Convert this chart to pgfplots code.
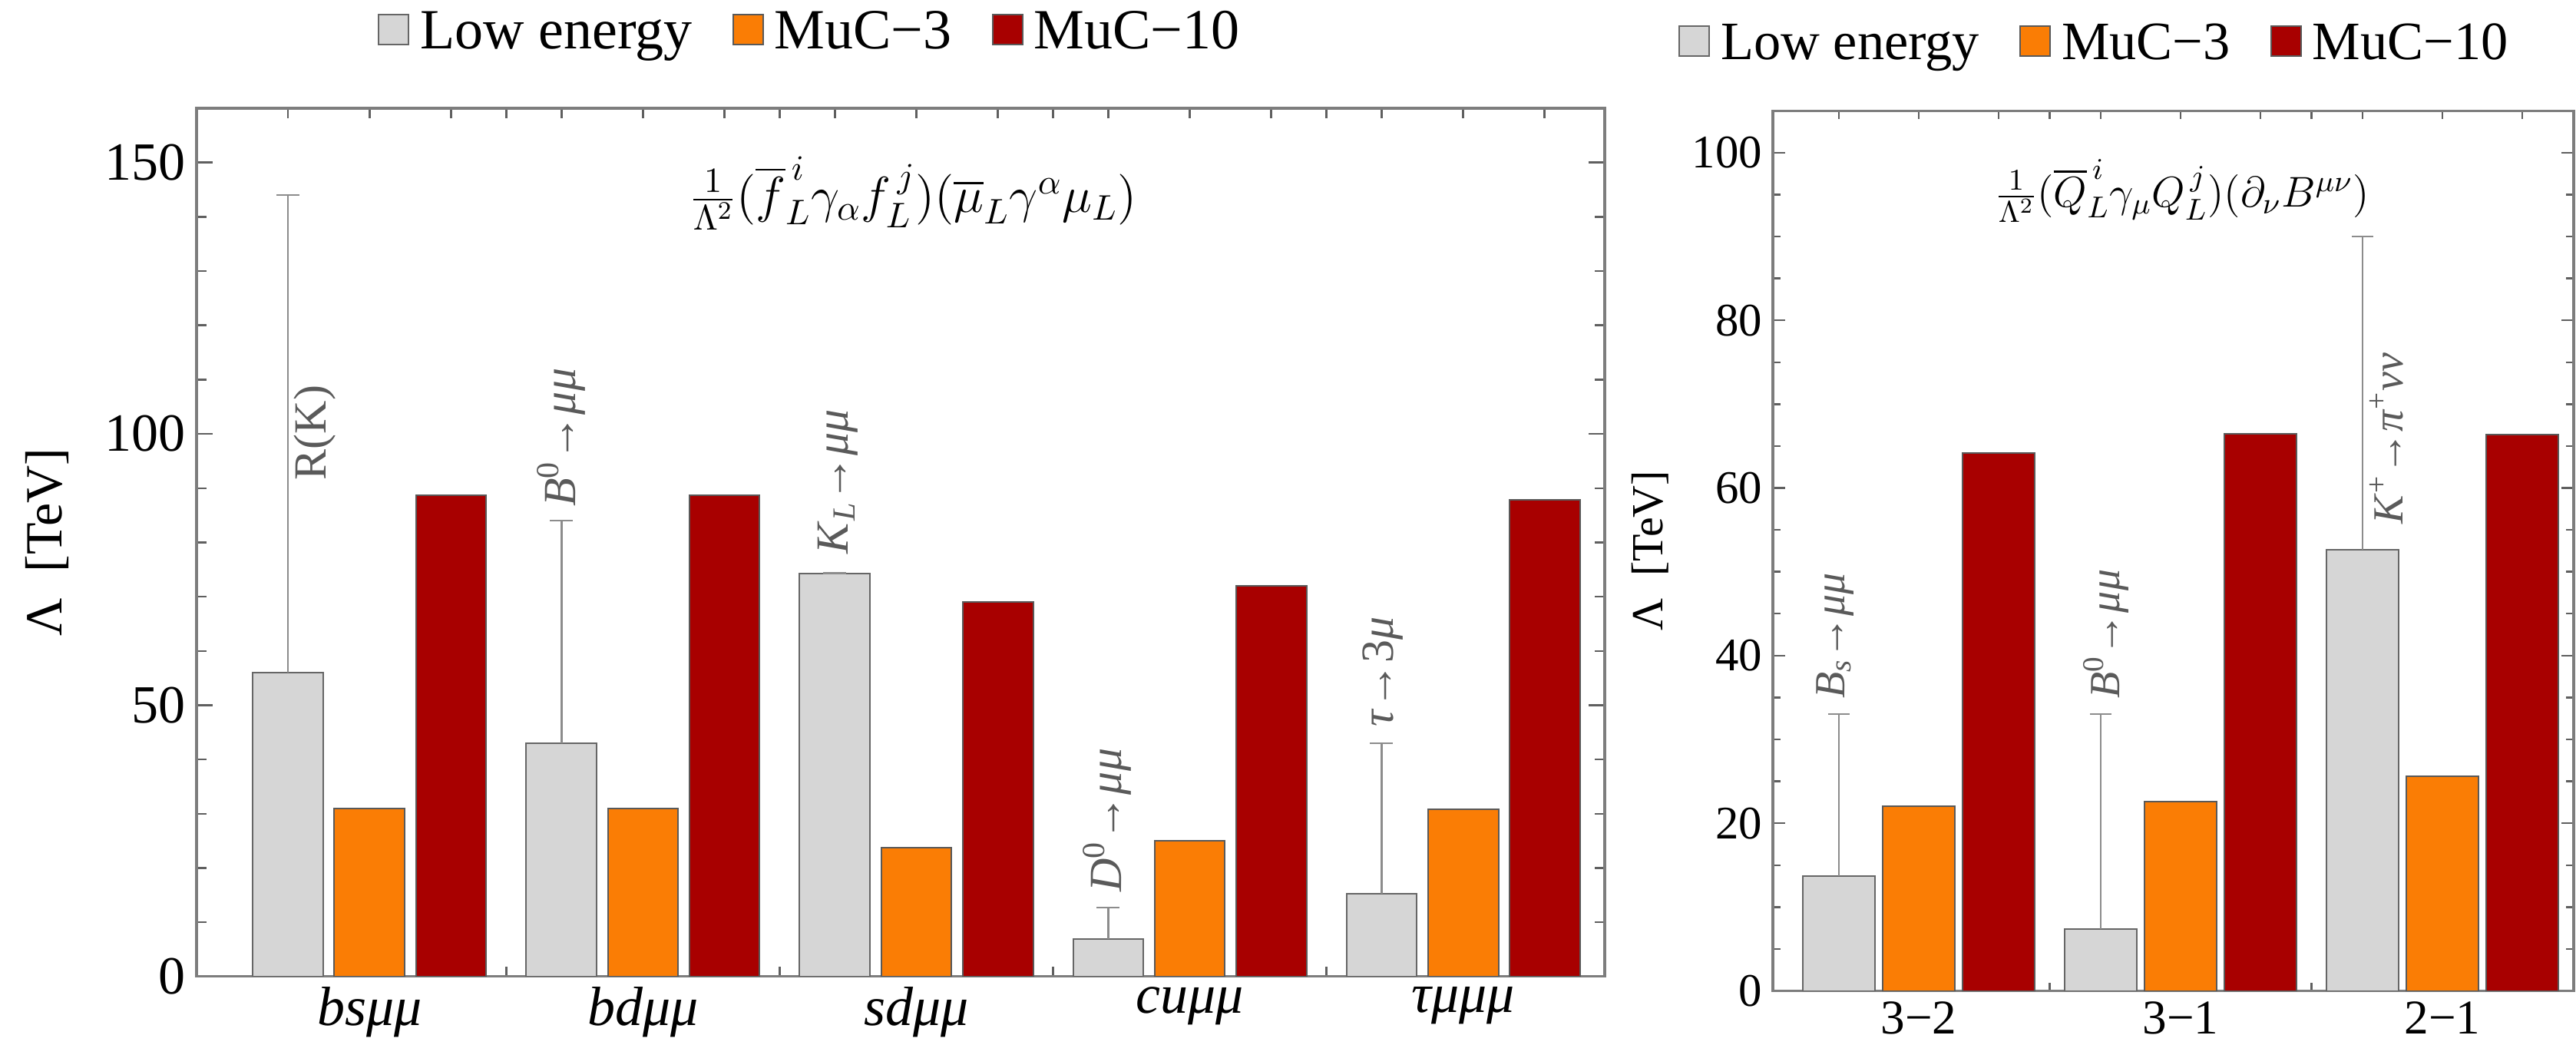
\documentclass[border=0pt]{standalone}
\usepackage{fix-cm}
\usepackage{amsmath}
\usepackage{fontspec}
\setmainfont{Liberation Serif}
\usepackage{pgfplots}
\pgfplotsset{compat=1.18}
\usepackage{pgfplotstable}

\definecolor{lowgrey}{RGB}{214,214,214}
\definecolor{mucor}{RGB}{250,125,5}
\definecolor{mucred}{RGB}{168,0,0}
\definecolor{framegray}{RGB}{125,125,125}
\definecolor{tickgray}{RGB}{95,95,95}
\definecolor{labgray}{RGB}{90,90,90}
\definecolor{errgray}{RGB}{140,140,140}

\pgfplotstableread{
x low err
0 56.0 88.0
1 43.0 41.0
2 74.3 0
3 6.9 5.8
4 15.2 27.8
}\leftlow
\pgfplotstableread{
x muc3 muc10
0 30.9 88.7
1 30.9 88.7
2 23.8 69.0
3 25.0 72.0
4 30.8 87.9
}\leftmuc
\pgfplotstableread{
x low err
0 13.7 19.3
1 7.4 25.6
2 52.6 37.4
}\rightlow
\pgfplotstableread{
x muc3 muc10
0 22.05 64.2
1 22.6 66.5
2 25.65 66.4
}\rightmuc

\pgfplotsset{
  mystyle/.style={
    scale only axis, anchor=south west, ybar,
    axis line style={framegray, line width=0.8pt},
    tick style={tickgray, line width=0.6pt},
    major x tick style={draw=none},
    tick align=inside,
    /pgf/number format/assume math mode=true,
    legend style={draw=none, fill=none, legend columns=3, cells={anchor=west},
      /tikz/every odd column/.append style={column sep=1.5pt},
      /tikz/every even column/.append style={column sep=11pt}},
    legend image code/.code={\draw[#1] (0pt,-4pt) rectangle (9.75pt,5.75pt);},
  },
  lowbar/.style={fill=lowgrey, draw=gray!80!black, line width=0.5pt,
    error bars/y dir=plus, error bars/y explicit,
    error bars/error bar style={errgray, line width=0.6pt},
    error bars/error mark options={errgray, line width=0.6pt, mark size=#1, rotate=90}},
  orbar/.style={fill=mucor, draw=gray!70!black, line width=0.5pt},
  redbar/.style={fill=mucred, draw=gray!70!black, line width=0.5pt},
}

\begin{document}
\begin{tikzpicture}
\useasboundingbox (0,0) rectangle (838.75pt,340.25pt);
\begin{axis}[mystyle,
  at={(64pt,22.3pt)}, width=458.5pt, height=282.7pt,
  xmin=-0.633, xmax=4.518, ymin=0, ymax=160,
  bar width=0.258,
  ytick={0,50,100,150}, minor y tick num=4,
  major tick length=5.25pt, minor tick length=3.3pt,
  xtick={0,1,2,3,4},
  xticklabels={bsμμ,bdμμ,sdμμ,cuμμ,τμμμ},
  minor xtick={-0.298,0,0.298,0.5,0.702,1,1.298,1.5,1.702,2,2.298,2.5,2.702,3,3.298,3.5,3.702,4,4.298},
  xticklabel style={font=\fontsize{18}{18}\selectfont\itshape},
  yticklabel style={font=\fontsize{17.5}{17.5}\selectfont},
  ylabel={Λ\enspace[TeV]},
  ylabel style={font=\fontsize{17}{17}\selectfont, at={(axis description cs:-0.106,0.5)}, anchor=center},
  legend style={at={(0.437,1.0876)}, anchor=center, font=\fontsize{18.5}{18.5}\selectfont},
]
\addplot[bar shift=-0.298, lowbar=3.75pt] table[x=x, y=low, y error plus=err]{\leftlow};
\addplot[bar shift=0, orbar] table[x=x, y=muc3]{\leftmuc};
\addplot[bar shift=0.298, redbar] table[x=x, y=muc10]{\leftmuc};
\legend{Low energy, MuC−3, MuC−10}
\node[font=\fontsize{16.5}{16.5}\selectfont] at (rel axis cs:0.509,0.902)
  {$\tfrac{1}{\Lambda^2}(\overline{f}^{\,i}_{L}\gamma_\alpha f^{\,j}_L)(\overline{\mu}_L\gamma^\alpha\mu_L)$};
\begin{scope}[every node/.style={rotate=90, anchor=west, inner sep=0pt, text=labgray, font=\fontsize{15}{15}\selectfont}]
\node at (axis cs:-0.201,91.4) {R(K)};
\node at (axis cs:0.702,86.5) {\textit{B}\textsuperscript{0}→\textit{μμ}};
\node at (axis cs:1.712,77.8) {\textit{K}\textsubscript{\textit{L}}→\textit{μμ}};
\node at (axis cs:2.697,15.5) {\textit{D}\textsuperscript{0}→\textit{μμ}};
\node at (axis cs:3.706,45.9) {\textit{τ}→3\textit{μ}};
\end{scope}
\end{axis}

\begin{axis}[mystyle,
  at={(577.25pt,17.6pt)}, width=260.75pt, height=286.6pt,
  xmin=-0.557, xmax=2.501, ymin=0, ymax=105,
  bar width=0.276,
  ytick={0,20,40,60,80,100}, minor y tick num=3,
  major tick length=4pt, minor tick length=2.6pt,
  xtick={0,1,2},
  xticklabels={3−2,3−1,2−1},
  minor xtick={-0.305,0,0.305,0.5,0.695,1,1.305,1.5,1.695,2,2.305},
  xticklabel style={font=\fontsize{15.8}{15.8}\selectfont},
  yticklabel style={font=\fontsize{15.2}{15.2}\selectfont},
  ylabel={Λ\enspace[TeV]},
  ylabel style={font=\fontsize{14.5}{14.5}\selectfont, at={(axis description cs:-0.153,0.5)}, anchor=center},
  legend style={at={(0.404,1.076)}, anchor=center, font=\fontsize{17.6}{17.6}\selectfont},
]
\addplot[bar shift=-0.305, lowbar=3.5pt] table[x=x, y=low, y error plus=err]{\rightlow};
\addplot[bar shift=0, orbar] table[x=x, y=muc3]{\rightmuc};
\addplot[bar shift=0.305, redbar] table[x=x, y=muc10]{\rightmuc};
\legend{Low energy, MuC−3, MuC−10}
\node[font=\fontsize{14}{14}\selectfont] at (rel axis cs:0.511,0.909)
  {$\tfrac{1}{\Lambda^2}(\overline{Q}^{\,i}_{L}\gamma_\mu Q^{\,j}_L)(\partial_\nu B^{\mu\nu})$};
\begin{scope}[every node/.style={rotate=90, anchor=west, inner sep=0pt, text=labgray, font=\fontsize{14}{14}\selectfont}]
\node at (axis cs:-0.32,34.8) {\textit{B}\textsubscript{\textit{s}}→\textit{μμ}};
\node at (axis cs:0.715,34.8) {\textit{B}\textsuperscript{0}→\textit{μμ}};
\node at (axis cs:1.786,55.6) {\textit{K}\textsuperscript{+}→\textit{π}\textsuperscript{+}\textit{νν}};
\end{scope}
\end{axis}
\end{tikzpicture}
\end{document}
